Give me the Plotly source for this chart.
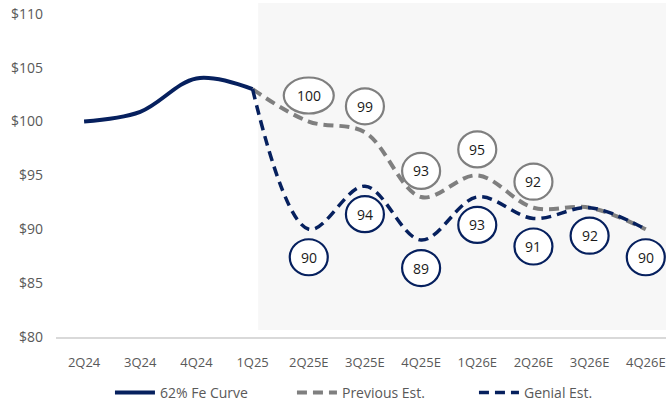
import plotly.graph_objects as go

# Quarter labels and price series (US$/t)
quarters = ["2Q24", "3Q24", "4Q24", "1Q25", "2Q25E", "3Q25E", "4Q25E",
            "1Q26E", "2Q26E", "3Q26E", "4Q26E"]
fe_curve = [100, 100.9, 104.0, 103.0, None, None, None, None, None, None, None]
previous_est = [None, None, None, 103.0, 100, 99, 93, 95, 92, 92, 90]
genial_est = [None, None, None, 103.0, 90, 94, 89, 93, 91, 92, 90]

# Which estimates get a value bubble
previous_labels = [None, None, None, None, "100", "99", "93", "95", "92", None, None]
genial_labels = [None, None, None, None, "90", "94", "89", "93", "91", "92", "90"]

NAVY = "#06205e"
GREY = "#7f7f7f"
TEXT = "#595959"
FONT = "Open Sans, sans-serif"

fig = go.Figure()

fig.add_trace(go.Scatter(
    x=list(range(len(quarters))), y=fe_curve, name="62% Fe Curve",
    mode="lines", line=dict(color=NAVY, width=4, shape="spline", smoothing=1.0),
))
fig.add_trace(go.Scatter(
    x=list(range(len(quarters))), y=previous_est, name="Previous Est.",
    mode="lines", line=dict(color=GREY, width=4, dash="10px,6px", shape="spline", smoothing=1.0),
))
fig.add_trace(go.Scatter(
    x=list(range(len(quarters))), y=genial_est, name="Genial Est.",
    mode="lines", line=dict(color=NAVY, width=3.5, dash="10px,6px", shape="spline", smoothing=1.0),
))

shapes = [
    # Shaded forecast window
    dict(type="rect", xref="x", yref="y", x0=3.1, x1=10.5, y0=80.64, y1=111.2,
         fillcolor="#f7f7f7", line=dict(width=0), layer="below"),
]
annotations = []

def add_bubbles(labels, values, color, offset, width=38, height=36):
    for i, lab in enumerate(labels):
        if lab is None:
            continue
        w = width if len(lab) < 3 else 50
        shapes.append(dict(
            type="circle", xref="x", yref="y",
            xsizemode="pixel", ysizemode="pixel",
            xanchor=i, yanchor=values[i],
            x0=-w / 2, x1=w / 2,
            y0=offset - height / 2, y1=offset + height / 2,
            fillcolor="white", line=dict(color=color, width=2.2), layer="above",
        ))
        annotations.append(dict(
            x=i, y=values[i], xref="x", yref="y", yshift=offset,
            text=lab, showarrow=False,
            font=dict(family=FONT, size=14, color="#1a1a1a"),
        ))

add_bubbles(previous_labels, previous_est, GREY, 26)
add_bubbles(genial_labels, genial_est, NAVY, -28)

fig.update_layout(
    width=666, height=409,
    margin=dict(l=56, r=0, t=3, b=67),
    paper_bgcolor="white", plot_bgcolor="white",
    font=dict(family=FONT, size=13, color=TEXT),
    shapes=shapes, annotations=annotations,
    showlegend=True,
    legend=dict(orientation="h", x=0.536, xanchor="center", y=-0.168, yanchor="middle",
                bgcolor="rgba(0,0,0,0)",
                font=dict(family=FONT, size=14, color=TEXT),
                itemwidth=40, entrywidth=127, tracegroupgap=0),
)

fig.update_xaxes(
    tickmode="array", tickvals=list(range(len(quarters))), ticktext=quarters,
    range=[-0.5, 10.36], showgrid=False, zeroline=False,
    showline=True, linecolor="#d9d9d9", linewidth=2,
    ticks="", ticklabelstandoff=12, automargin=False, ticklabeloverflow="allow",
    tickfont=dict(family=FONT, size=13, color=TEXT),
)
fig.update_yaxes(
    range=[80, 111], tickmode="array", tickvals=[80, 85, 90, 95, 100, 105, 110],
    ticktext=["$80", "$85", "$90", "$95", "$100", "$105", "$110"],
    showgrid=False, zeroline=False, showline=False, ticks="",
    ticklabelstandoff=12, automargin=False,
    tickfont=dict(family=FONT, size=14, color=TEXT),
)

fig.write_html("out.html")
